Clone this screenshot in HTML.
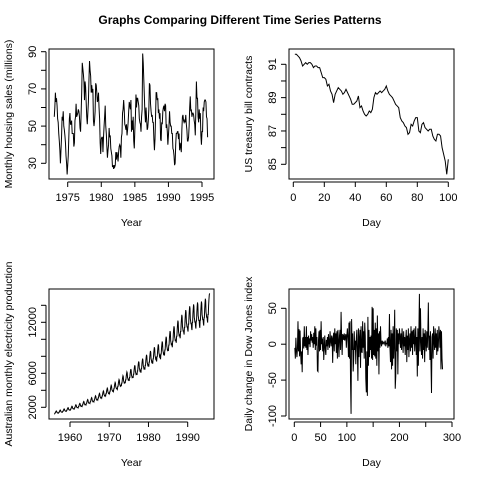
<!DOCTYPE html>
<html><head><meta charset="utf-8">
<style>
body{margin:0;background:#fff;}
svg{display:block;font-family:"Liberation Sans",Arial,sans-serif;}
</style></head>
<body>
<svg id="chart" width="480" height="480" viewBox="0 0 480 480" xmlns="http://www.w3.org/2000/svg">
<rect width="480" height="480" fill="#fff"/>
<text x="240" y="24" text-anchor="middle" font-size="12" font-weight="bold">Graphs Comparing Different Time Series Patterns</text>
</svg>
<script>
// ---- data ----
const hsalesStart = 1973;
const hsalesValues = [
55,60,68,63,65,61,54,52,46,42,37,30, 37,44,55,53,58,50,48,45,41,34,30,24,
29,34,44,54,57,51,51,53,46,46,46,39, 41,53,55,62,55,56,57,59,58,55,49,47,
57,68,84,81,78,74,64,74,71,63,55,51, 57,63,75,85,80,77,68,72,68,70,53,50,
53,58,73,72,68,63,64,68,60,54,41,35, 43,44,44,36,44,50,55,61,50,46,39,33,
37,40,49,44,45,38,36,34,28,29,27,29, 28,29,36,32,36,34,31,36,39,40,39,33,
44,46,57,59,64,59,51,50,48,51,45,48, 52,58,63,61,59,64,47,53,48,55,42,38,
48,55,67,60,65,65,63,61,54,52,51,47, 55,59,89,84,75,66,57,52,60,54,48,49,
53,59,73,72,62,58,55,56,52,52,43,37, 43,55,68,68,64,65,57,59,54,57,43,42,
52,51,58,60,61,58,62,61,49,51,47,40, 45,50,58,52,50,50,46,46,38,37,34,29,
30,40,46,46,47,47,43,46,37,41,39,36, 48,55,56,53,52,53,52,56,51,48,42,42,
44,50,60,66,58,59,55,57,57,56,53,51, 45,58,74,65,65,55,52,59,54,57,45,40,
47,47,60,58,63,64,64,63,55,54,44];
const hsalesYTicks = [30,40,50,60,70,80,90];
const hsalesYLabels = [30,50,70,90];
const hsalesXTicks = [1975,1980,1985,1990,1995];

const ustreasValues = [
91.6,91.6,91.5,91.4,91.2,90.9,91.0,91.1,91.0,91.1,91.1,91.0,90.8,90.9,90.9,90.8,90.8,90.5,90.2,90.2,
90.1,89.7,89.8,89.4,89.2,88.7,89.2,89.4,89.6,89.5,89.4,89.2,89.3,89.5,89.3,89.1,88.9,88.6,88.6,88.7,
88.8,89.1,88.4,88.5,88.2,88.0,87.9,88.0,88.2,88.1,88.3,89.0,89.3,89.2,89.3,89.4,89.3,89.4,89.5,89.7,
89.4,89.2,89.1,89.0,88.8,88.6,88.5,88.4,87.8,87.6,87.5,87.3,87.2,86.8,86.9,87.4,87.3,87.6,87.8,87.8,
87.0,86.9,87.4,87.5,87.2,87.1,87.0,87.1,87.1,86.7,86.5,86.4,86.8,86.8,86.7,86.0,85.6,85.2,84.4,85.3];
const ustreasYTicks = [85,86,87,88,89,90,91];
const ustreasYLabels = [85,87,89,91];
const ustreasXTicks = [0,20,40,60,80,100];

const elecStart = 1956;
const elecValues = [
1260,1232,1330,1330,1442,1512,1568,1540,1400,1372,1330,1344,
1350,1320,1425,1425,1545,1620,1680,1650,1500,1470,1425,1440,
1458,1426,1539,1539,1669,1750,1814,1782,1620,1588,1539,1555,
1575,1540,1663,1663,1803,1890,1960,1925,1750,1715,1663,1680,
1710,1672,1805,1805,1957,2052,2128,2090,1900,1862,1805,1824,
1845,1804,1948,1948,2112,2214,2296,2255,2050,2009,1948,1968,
1980,1936,2090,2090,2266,2376,2464,2420,2200,2156,2090,2112,
2160,2112,2280,2280,2472,2592,2688,2640,2400,2352,2280,2304,
2340,2288,2470,2470,2678,2808,2912,2860,2600,2548,2470,2496,
2520,2464,2660,2660,2884,3024,3136,3080,2800,2744,2660,2688,
2700,2640,2850,2850,3090,3240,3360,3300,3000,2940,2850,2880,
2925,2860,3088,3088,3348,3510,3640,3575,3250,3185,3088,3120,
3150,3080,3325,3325,3605,3780,3920,3850,3500,3430,3325,3360,
3420,3344,3610,3610,3914,4104,4256,4180,3800,3724,3610,3648,
3690,3608,3895,3895,4223,4428,4592,4510,4100,4018,3895,3936,
3960,3872,4180,4180,4532,4752,4928,4840,4400,4312,4180,4224,
4230,4136,4465,4465,4841,5076,5264,5170,4700,4606,4465,4512,
4590,4488,4845,4845,5253,5508,5712,5610,5100,4998,4845,4896,
4950,4840,5225,5225,5665,5940,6160,6050,5500,5390,5225,5280,
5220,5104,5510,5510,5974,6264,6496,6380,5800,5684,5510,5568,
5580,5456,5890,5890,6386,6696,6944,6820,6200,6076,5890,5952,
5940,5808,6270,6270,6798,7128,7392,7260,6600,6468,6270,6336,
6210,6072,6555,6555,7107,7452,7728,7590,6900,6762,6555,6624,
6570,6424,6935,6935,7519,7884,8176,8030,7300,7154,6935,7008,
6930,6776,7315,7315,7931,8316,8624,8470,7700,7546,7315,7392,
7290,7128,7695,7695,8343,8748,9072,8910,8100,7938,7695,7776,
7560,7392,7980,7980,8652,9072,9408,9240,8400,8232,7980,8064,
7830,7656,8265,8265,8961,9396,9744,9570,8700,8526,8265,8352,
8280,8096,8740,8740,9476,9936,10304,10120,9200,9016,8740,8832,
8820,8624,9310,9310,10094,10584,10976,10780,9800,9604,9310,9408,
9270,9064,9785,9785,10609,11124,11536,11330,10300,10094,9785,9888,
9810,9592,10355,10355,11227,11772,12208,11990,10900,10682,10355,10464,
10350,10120,10925,10925,11845,12420,12880,12650,11500,11270,10925,11040,
10800,10560,11400,11400,12360,12960,13440,13200,12000,11760,11400,11520,
11160,10912,11780,11780,12772,13392,13888,13640,12400,12152,11780,11904,
11340,11088,11970,11970,12978,13608,14112,13860,12600,12348,11970,12096,
11520,11264,12160,12160,13184,13824,14336,14080,12800,12544,12160,12288,
11610,11352,12255,12255,13287,13932,14448,14190,12900,12642,12255,12384,
11880,11616,12540,12540,13596,14256,14784,14520,13200,12936,12540,12672,
12240,11968,12920,12920,14008,14688,15232,15400];
const elecYTicks = [2000,4000,6000,8000,10000,12000,14000];
const elecYLabels = [2000,6000,12000];
const elecXTicks = [1960,1970,1980,1990];

const djValues = [
-5,-20,9,-8,-18,-6,32,-10,21,-17, 19,-12,-28,-10,-39,8,10,-6,25,-3,
10,-5,25,-8,10,-15,12,0,8,-4, 18,5,14,2,10,-5,16,0,25,-8,
22,-2,10,-37,-38,5,18,-10,20,-8, 32,0,8,-10,10,-22,-4,12,-8,-15,
6,-3,10,-8,14,2,-5,18,5,-3, 12,8,-26,10,16,-10,22,0,15,-12,
18,-20,20,5,-18,12,20,-8,45,10, -15,14,12,6,15,5,10,14,-5,12,
22,8,-18,30,-20,32,-53,-97,35,-8, 15,-38,-20,18,-8,5,-28,8,20,-10,
-51,22,-18,8,20,-33,25,-10,-12,32, -5,18,-20,30,12,-48,-67,-10,-72,38,
-30,20,-18,10,-8,12,-20,52,-22,50, -15,20,-17,30,-20,22,-30,40,-10,15,
-42,18,-5,25,2,-3,5,0,3,2, 0,3,5,-3,2,0,8,-5,10,-3,
42,-5,-25,20,-35,15,-30,25,-20,5, 48,-62,-45,22,-10,20,-42,15,0,22,
10,-5,15,-8,22,5,-12,18,-3,10, -15,8,20,-25,12,-8,22,-18,5,15,
-10,25,-5,18,-15,20,0,22,-10,5, 25,-15,10,-45,22,-30,15,70,-10,50,
5,-15,10,-20,22,-8,15,-25,20,5, -10,18,-5,15,58,-8,12,-22,18,-25,
-68,10,15,-20,25,5,-8,22,-5,15, -15,20,-10,-3,25,15,-5,20,-35,18,-20,-35];
const djYTicks = [-100,-50,0,50];
const djYLabels = [-100,-50,0,50];
const djXTicks = [0,50,100,150,200,250,300];
const djXLabels = [0,50,100,200,300];

// ---- drawing ----
const NS = "http://www.w3.org/2000/svg";
const svg = document.getElementById('chart');
function mk(tag, attrs, parent){
  const e = document.createElementNS(NS, tag);
  for (const k in attrs) e.setAttribute(k, attrs[k]);
  (parent||svg).appendChild(e);
  return e;
}
function linScale(d0,d1,r0,r1){ return v => r0 + (v-d0)/(d1-d0)*(r1-r0); }

function panel(opt){
  const g = mk('g', {});
  
  
  const {L,R,T,B,sx,sy} = opt;
  let d = '';
  opt.values.forEach((v,i)=>{
    const x = sx(opt.xOf(i)), y = sy(v);
    d += (i? 'L':'M') + x.toFixed(2) + ' ' + y.toFixed(2);
  });
  const p = mk('path', {d:d, fill:'none', stroke:'#000', 'stroke-width':1}, g);
  
  
  const box = mk('rect', {x:L, y:T, width:R-L, height:B-T, fill:'none', stroke:'#000', 'stroke-width':1}, g);
  
  
  const xa = mk('g', {}, g);
  
  
  const xt = opt.xTicks;
  mk('line', {x1:sx(xt[0]), x2:sx(xt[xt.length-1]), y1:B+3, y2:B+3, stroke:'#000'}, xa);
  xt.forEach(t=>{
    mk('line', {x1:sx(t), x2:sx(t), y1:B+3, y2:B+8, stroke:'#000'}, xa);
  });
  (opt.xLabels||xt).forEach(t=>{
    const tx = mk('text', {x:sx(t), y:B+22, 'text-anchor':'middle', 'font-size':11}, xa);
    tx.textContent = t;
    
    
  });
  const ya = mk('g', {}, g);
  
  
  const yt = opt.yTicks;
  mk('line', {x1:L-3, x2:L-3, y1:sy(yt[0]), y2:sy(yt[yt.length-1]), stroke:'#000'}, ya);
  yt.forEach(t=>{
    mk('line', {x1:L-3, x2:L-8, y1:sy(t), y2:sy(t), stroke:'#000'}, ya);
  });
  opt.yLabels.forEach(t=>{
    const x = L-13, y = sy(t);
    const tx = mk('text', {x:x, y:y, 'text-anchor':'middle', 'font-size':11, transform:`rotate(-90 ${x} ${y})`}, ya);
    tx.textContent = t;
    
    
  });
  const xtT = mk('text', {x:(L+R)/2, y:B+47, 'text-anchor':'middle', 'font-size':10.5}, g);
  xtT.textContent = opt.xTitle;
  
  
  const yx = opt.yTitleX, yy = (T+B)/2;
  const ytT = mk('text', {x:yx, y:yy, 'text-anchor':'middle', 'font-size':10.5, transform:`rotate(-90 ${yx} ${yy})`}, g);
  ytT.textContent = opt.yTitle;
  
  
}

panel({name:'housing-sales-panel', L:49, R:214, T:49, B:179,
  sx: linScale(1975,1995,67.7,202), sy: linScale(30,90,163.3,51.7),
  values: hsalesValues, xOf: i => hsalesStart + i/12,
  xTicks: hsalesXTicks, yTicks: hsalesYTicks, yLabels: hsalesYLabels,
  xTitle:'Year', yTitle:'Monthly housing sales (millions)', yTitleX:12});
panel({name:'treasury-bill-panel', L:289, R:454, T:49, B:179,
  sx: linScale(0,100,293.3,448.3), sy: linScale(85,91,164.3,64.3),
  values: ustreasValues, xOf: i => i+1,
  xTicks: ustreasXTicks, yTicks: ustreasYTicks, yLabels: ustreasYLabels,
  xTitle:'Day', yTitle:'US treasury bill contracts', yTitleX:252});
panel({name:'electricity-panel', L:49, R:214, T:289, B:419,
  sx: linScale(1960,1990,70,187.7), sy: linScale(2000,12000,407.3,322.3),
  values: elecValues, xOf: i => elecStart + i/12,
  xTicks: elecXTicks, yTicks: elecYTicks, yLabels: elecYLabels,
  xTitle:'Year', yTitle:'Australian monthly electricity production', yTitleX:12});
panel({name:'dow-jones-panel', L:289, R:454, T:289, B:419,
  sx: linScale(0,300,294.3,452), sy: linScale(-100,50,416,308.3),
  values: djValues, xOf: i => i+1,
  xTicks: djXTicks, xLabels: djXLabels, yTicks: djYTicks, yLabels: djYLabels,
  xTitle:'Day', yTitle:'Daily change in Dow Jones index', yTitleX:252});
</script>
</body></html>
